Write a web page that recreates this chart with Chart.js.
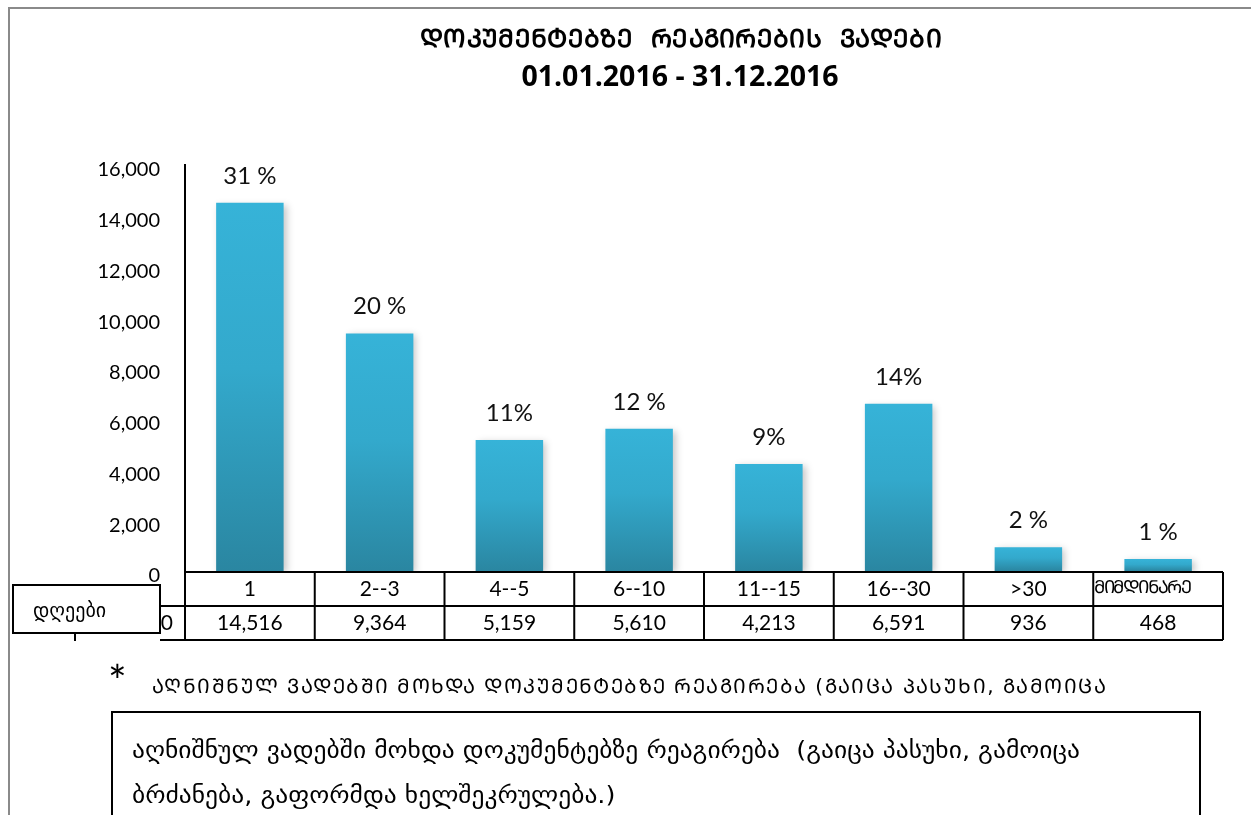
<!DOCTYPE html>
<html lang="ka">
<head>
    <meta charset="UTF-8">
    <title>დოკუმენტებზე რეაგირების ვადები</title>
    <script src="https://cdn.jsdelivr.net/npm/chart.js"></script>
    <style>
        body { margin: 0; background: #fff; }
        canvas { display: block; }
    </style>
</head>
<body>
    <canvas id="chart" width="1251" height="815"></canvas>

    <script>
        // chart data
        const categories = ['1', '2--3', '4--5', '6--10', '11--15', '16--30', '>30', 'მიმდინარე'];
        const counts = [14516, 9364, 5159, 5610, 4213, 6591, 936, 468];
        const pctLabels = ['31 %', '20 %', '11%', '12 %', '9%', '14%', '2 %', '1 %'];
        const yMax = 16000;
        const yStep = 2000;

        const titleLine1 = 'დოკუმენტებზე  რეაგირების  ვადები';
        const titleLine2 = '01.01.2016 - 31.12.2016';
        const rowHeader = 'დღეები';
        const footnote = 'აღნიშნულ ვადებში მოხდა დოკუმენტებზე რეაგირება (გაიცა პასუხი, გამოიცა';
        const noteLines = [
            'აღნიშნულ ვადებში მოხდა დოკუმენტებზე რეაგირება  (გაიცა პასუხი, გამოიცა',
            'ბრძანება, გაფორმდა ხელშეკრულება.)'
        ];

        const isGeorgian = s => /[\u10D0-\u10FF]/.test(s);
        // all-caps georgian (mtavruli)
        const mtavruli = s => s.replace(/[\u10D0-\u10FA]/g, c => String.fromCharCode(c.charCodeAt(0) + 0xBC0));

        // draw text spread to a given width using letter spacing
        function fitText(ctx, text, x, y, width) {
            ctx.letterSpacing = '0px';
            const w = ctx.measureText(text).width;
            const ls = (width - w) / text.length;
            ctx.letterSpacing = ls + 'px';
            ctx.textAlign = 'left';
            ctx.fillText(text, x, y);
            ctx.letterSpacing = '0px';
        }

        function barGradient(context) {
            const chart = context.chart;
            const y = chart.scales.y;
            if (!y || !context.parsed) return '#33afd4';
            const top = y.getPixelForValue(context.parsed.y);
            const bottom = y.getPixelForValue(0);
            if (!isFinite(top) || !isFinite(bottom)) return '#33afd4';
            const g = chart.ctx.createLinearGradient(0, top, 0, bottom);
            g.addColorStop(0, '#36b3d8');
            g.addColorStop(0.45, '#33a9cc');
            g.addColorStop(1, '#2a86a1');
            return g;
        }

        const shadowPlugin = {
            id: 'barShadow',
            beforeDatasetsDraw(chart) {
                const ctx = chart.ctx;
                ctx.save();
                ctx.shadowColor = 'rgba(0,0,0,0.22)';
                ctx.shadowBlur = 7;
                ctx.shadowOffsetX = 3;
                ctx.shadowOffsetY = 2;
            },
            afterDatasetsDraw(chart) {
                chart.ctx.restore();
            }
        };

        const decorPlugin = {
            id: 'decor',
            afterDraw(chart) {
                const ctx = chart.ctx;
                const x = chart.scales.x;
                const y = chart.scales.y;
                const n = categories.length;
                const left = x.left;
                const right = x.right;
                const cw = (right - left) / n;
                const base = y.getPixelForValue(0);
                const r1 = base + 1, r2 = r1 + 34, r3 = r2 + 34;

                ctx.save();

                // outer frame
                ctx.strokeStyle = '#8a8a8a';
                ctx.lineWidth = 2;
                ctx.beginPath();
                ctx.moveTo(9, 815);
                ctx.lineTo(9, 8);
                ctx.lineTo(1251, 8);
                ctx.stroke();

                // percent labels over bars
                const meta = chart.getDatasetMeta(0);
                ctx.fillStyle = '#111';
                ctx.font = '24px Lato';
                ctx.textAlign = 'center';
                ctx.textBaseline = 'alphabetic';
                meta.data.forEach((bar, i) => {
                    ctx.fillText(pctLabels[i], bar.x, bar.y - 19);
                });

                // title
                ctx.fillStyle = '#000';
                ctx.font = 'bold 25px "DejaVu Sans"';
                ctx.textBaseline = 'middle';
                fitText(ctx, mtavruli(titleLine1), 420, 40, 522);
                ctx.font = 'bold 28.5px "Open Sans"';
                ctx.textAlign = 'center';
                ctx.fillText(titleLine2, 680, 78);

                // data table
                ctx.strokeStyle = '#000';
                ctx.lineWidth = 2;
                ctx.beginPath();
                ctx.moveTo(left, r1); ctx.lineTo(right, r1);
                ctx.moveTo(160, r2); ctx.lineTo(right, r2);
                ctx.moveTo(160, r3); ctx.lineTo(right, r3);
                for (let i = 0; i <= n; i++) {
                    const xx = left + i * cw;
                    ctx.moveTo(xx, r1); ctx.lineTo(xx, r3);
                }
                ctx.stroke();

                ctx.textBaseline = 'middle';
                categories.forEach((c, i) => {
                    const cx = x.getPixelForValue(i);
                    if (isGeorgian(c)) {
                        ctx.font = '18px "DejaVu Sans"';
                        fitText(ctx, mtavruli(c), left + i * cw + 1, (r1 + r2) / 2 - 1, 96);
                    } else {
                        ctx.font = '21px Lato';
                        ctx.textAlign = 'center';
                        ctx.fillText(c, cx, (r1 + r2) / 2);
                    }
                    ctx.font = '21px Lato';
                    ctx.textAlign = 'center';
                    ctx.fillText(counts[i].toLocaleString('en-US'), cx, (r2 + r3) / 2);
                });
                ctx.textAlign = 'right';
                ctx.fillText('0', 173, (r2 + r3) / 2);

                // row header box
                ctx.fillStyle = '#fff';
                ctx.fillRect(13, 585, 147, 48);
                ctx.strokeRect(13, 585, 147, 48);
                ctx.beginPath();
                ctx.moveTo(75, 633); ctx.lineTo(75, 641);
                ctx.stroke();
                ctx.fillStyle = '#000';
                ctx.font = '20px "DejaVu Sans"';
                ctx.textAlign = 'left';
                ctx.fillText(rowHeader, 33, 612, 75);

                // footnote
                ctx.font = '44px Lato';
                ctx.textBaseline = 'alphabetic';
                ctx.fillText('*', 108, 697);
                ctx.font = '20px "DejaVu Sans"';
                ctx.textBaseline = 'middle';
                fitText(ctx, mtavruli(footnote), 152, 688, 955);

                // note box
                ctx.fillStyle = '#fff';
                ctx.fillRect(112, 712, 1088, 110);
                ctx.strokeRect(112, 712, 1088, 110);
                ctx.fillStyle = '#000';
                ctx.font = '23px "DejaVu Sans"';
                ctx.textBaseline = 'alphabetic';
                ctx.textAlign = 'left';
                const sx = 948 / ctx.measureText(noteLines[0]).width;
                noteLines.forEach((line, i) => {
                    ctx.save();
                    ctx.translate(132, 758 + i * 45);
                    ctx.scale(sx, 1);
                    ctx.fillText(line, 0, 0);
                    ctx.restore();
                });

                ctx.restore();
            }
        };

        new Chart(document.getElementById('chart'), {
            type: 'bar',
            data: {
                labels: categories,
                datasets: [{
                    data: counts,
                    backgroundColor: barGradient,
                    borderWidth: 0,
                    barPercentage: 0.52,
                    categoryPercentage: 1
                }]
            },
            options: {
                responsive: false,
                animation: false,
                devicePixelRatio: 1,
                layout: {
                    padding: { top: 165, bottom: 244, left: 0, right: 28 }
                },
                plugins: {
                    legend: { display: false },
                    tooltip: { enabled: false }
                },
                scales: {
                    x: {
                        display: false,
                        offset: true
                    },
                    y: {
                        min: 0,
                        max: yMax,
                        afterFit(scale) { scale.width = 185; },
                        grid: { display: false, drawTicks: false },
                        border: { display: true, color: '#000', width: 2 },
                        ticks: {
                            stepSize: yStep,
                            padding: 25,
                            labelOffset: 5,
                            color: '#000',
                            font: { family: 'Lato', size: 20 },
                            callback: v => v.toLocaleString('en-US')
                        }
                    }
                }
            },
            plugins: [shadowPlugin, decorPlugin]
        });
    </script>
</body>
</html>
